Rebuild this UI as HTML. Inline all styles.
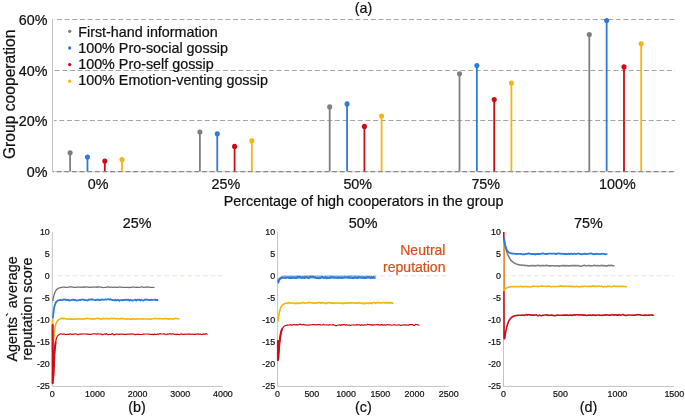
<!DOCTYPE html><html><head><meta charset="utf-8"><style>html,body{margin:0;padding:0;background:#fff;}svg{display:block;will-change:transform}text{font-family:"Liberation Sans", sans-serif;fill:#111;stroke:#111;stroke-width:0.22px}</style></head><body>
<svg width="685" height="417" viewBox="0 0 685 417">
<line x1="54" y1="19.50" x2="675" y2="19.50" stroke="#a6a6a6" stroke-width="1" stroke-dasharray="5 2.655" stroke-dashoffset="4.685"/>
<line x1="54" y1="70.50" x2="675" y2="70.50" stroke="#a6a6a6" stroke-width="1" stroke-dasharray="5 2.655" stroke-dashoffset="7.080"/>
<line x1="54" y1="120.50" x2="675" y2="120.50" stroke="#a6a6a6" stroke-width="1" stroke-dasharray="5 2.655" stroke-dashoffset="2.405"/>
<line x1="52.5" y1="171.6" x2="674.5" y2="171.6" stroke="#d6d6d6" stroke-width="1.1"/>
<line x1="52.5" y1="171.6" x2="674.5" y2="171.6" stroke="#8a8a8a" stroke-width="1.1" stroke-dasharray="4.7 2.955" stroke-dashoffset="3.505"/>
<line x1="52.5" y1="19" x2="52.5" y2="172" stroke="#c3c3c3" stroke-width="1"/>
<text transform="translate(47.50,24.50) scale(1,1.04)" font-size="14.35" text-anchor="end">60%</text>
<text transform="translate(47.50,75.50) scale(1,1.04)" font-size="14.35" text-anchor="end">40%</text>
<text transform="translate(47.50,125.50) scale(1,1.04)" font-size="14.35" text-anchor="end">20%</text>
<text transform="translate(47.50,176.50) scale(1,1.04)" font-size="14.35" text-anchor="end">0%</text>
<text transform="translate(15.00,94.30) rotate(-90)" font-size="15.65" text-anchor="middle">Group cooperation</text>
<line x1="70.10" y1="152.80" x2="70.10" y2="171.20" stroke="#7f7f7f" stroke-width="1.8"/>
<circle cx="70.10" cy="152.80" r="2.55" fill="#7f7f7f"/>
<line x1="87.46" y1="157.00" x2="87.46" y2="171.20" stroke="#2f7bd8" stroke-width="1.8"/>
<circle cx="87.46" cy="157.00" r="2.55" fill="#2f7bd8"/>
<line x1="104.80" y1="161.00" x2="104.80" y2="171.20" stroke="#cc0c16" stroke-width="1.8"/>
<circle cx="104.80" cy="161.00" r="2.55" fill="#cc0c16"/>
<line x1="122.00" y1="159.50" x2="122.00" y2="171.20" stroke="#f4b512" stroke-width="1.8"/>
<circle cx="122.00" cy="159.50" r="2.55" fill="#f4b512"/>
<line x1="199.90" y1="132.00" x2="199.90" y2="171.20" stroke="#7f7f7f" stroke-width="1.8"/>
<circle cx="199.90" cy="132.00" r="2.55" fill="#7f7f7f"/>
<line x1="217.26" y1="133.80" x2="217.26" y2="171.20" stroke="#2f7bd8" stroke-width="1.8"/>
<circle cx="217.26" cy="133.80" r="2.55" fill="#2f7bd8"/>
<line x1="234.60" y1="146.40" x2="234.60" y2="171.20" stroke="#cc0c16" stroke-width="1.8"/>
<circle cx="234.60" cy="146.40" r="2.55" fill="#cc0c16"/>
<line x1="251.80" y1="140.80" x2="251.80" y2="171.20" stroke="#f4b512" stroke-width="1.8"/>
<circle cx="251.80" cy="140.80" r="2.55" fill="#f4b512"/>
<line x1="329.70" y1="106.90" x2="329.70" y2="171.20" stroke="#7f7f7f" stroke-width="1.8"/>
<circle cx="329.70" cy="106.90" r="2.55" fill="#7f7f7f"/>
<line x1="347.06" y1="103.90" x2="347.06" y2="171.20" stroke="#2f7bd8" stroke-width="1.8"/>
<circle cx="347.06" cy="103.90" r="2.55" fill="#2f7bd8"/>
<line x1="364.40" y1="126.40" x2="364.40" y2="171.20" stroke="#cc0c16" stroke-width="1.8"/>
<circle cx="364.40" cy="126.40" r="2.55" fill="#cc0c16"/>
<line x1="381.60" y1="116.10" x2="381.60" y2="171.20" stroke="#f4b512" stroke-width="1.8"/>
<circle cx="381.60" cy="116.10" r="2.55" fill="#f4b512"/>
<line x1="459.50" y1="73.70" x2="459.50" y2="171.20" stroke="#7f7f7f" stroke-width="1.8"/>
<circle cx="459.50" cy="73.70" r="2.55" fill="#7f7f7f"/>
<line x1="476.86" y1="65.50" x2="476.86" y2="171.20" stroke="#2f7bd8" stroke-width="1.8"/>
<circle cx="476.86" cy="65.50" r="2.55" fill="#2f7bd8"/>
<line x1="494.20" y1="99.60" x2="494.20" y2="171.20" stroke="#cc0c16" stroke-width="1.8"/>
<circle cx="494.20" cy="99.60" r="2.55" fill="#cc0c16"/>
<line x1="511.40" y1="83.10" x2="511.40" y2="171.20" stroke="#f4b512" stroke-width="1.8"/>
<circle cx="511.40" cy="83.10" r="2.55" fill="#f4b512"/>
<line x1="589.30" y1="34.50" x2="589.30" y2="171.20" stroke="#7f7f7f" stroke-width="1.8"/>
<circle cx="589.30" cy="34.50" r="2.55" fill="#7f7f7f"/>
<line x1="606.66" y1="20.60" x2="606.66" y2="171.20" stroke="#2f7bd8" stroke-width="1.8"/>
<circle cx="606.66" cy="20.60" r="2.55" fill="#2f7bd8"/>
<line x1="624.00" y1="66.90" x2="624.00" y2="171.20" stroke="#cc0c16" stroke-width="1.8"/>
<circle cx="624.00" cy="66.90" r="2.55" fill="#cc0c16"/>
<line x1="641.20" y1="43.80" x2="641.20" y2="171.20" stroke="#f4b512" stroke-width="1.8"/>
<circle cx="641.20" cy="43.80" r="2.55" fill="#f4b512"/>
<text transform="translate(98.15,189.20) scale(1,1.04)" font-size="14.35" text-anchor="middle">0%</text>
<text transform="translate(225.85,189.20) scale(1,1.04)" font-size="14.35" text-anchor="middle">25%</text>
<text transform="translate(357.75,189.20) scale(1,1.04)" font-size="14.35" text-anchor="middle">50%</text>
<text transform="translate(485.75,189.20) scale(1,1.04)" font-size="14.35" text-anchor="middle">75%</text>
<text transform="translate(617.35,189.20) scale(1,1.04)" font-size="14.35" text-anchor="middle">100%</text>
<text transform="translate(223.70,205.70) scale(1,1.04)" font-size="14.35">Percentage of high cooperators in the group</text>
<text transform="translate(363.50,12.80) scale(1,1.04)" font-size="14.35" text-anchor="middle">(a)</text>
<circle cx="69.7" cy="31.30" r="1.65" fill="#7f7f7f"/>
<text transform="translate(78.20,36.70) scale(1,1.04)" font-size="14.35">First-hand information</text>
<circle cx="69.7" cy="48.00" r="1.65" fill="#2f7bd8"/>
<text transform="translate(78.20,53.10) scale(1,1.04)" font-size="14.35">100% Pro-social gossip</text>
<circle cx="69.7" cy="64.60" r="1.65" fill="#cc0c16"/>
<text transform="translate(78.20,69.20) scale(1,1.04)" font-size="14.35">100% Pro-self gossip</text>
<circle cx="69.7" cy="81.20" r="1.65" fill="#f4b512"/>
<text transform="translate(78.20,85.35) scale(1,1.04)" font-size="14.35">100% Emotion-venting gossip</text>
<line x1="53.80" y1="275.8" x2="222.40" y2="275.8" stroke="#ece3d6" stroke-width="1" stroke-dasharray="4.6 3.06" stroke-dashoffset="4.040"/>
<line x1="52.30" y1="232" x2="52.30" y2="386.4" stroke="#c3c3c3" stroke-width="1"/>
<line x1="52.30" y1="386.4" x2="222.90" y2="386.4" stroke="#c3c3c3" stroke-width="1"/>
<text transform="translate(49.80,235.00) scale(0.927,1)" font-size="9.6" text-anchor="end">10</text>
<text transform="translate(49.80,256.95) scale(0.927,1)" font-size="9.6" text-anchor="end">5</text>
<text transform="translate(49.80,278.90) scale(0.927,1)" font-size="9.6" text-anchor="end">0</text>
<text transform="translate(49.80,300.85) scale(0.927,1)" font-size="9.6" text-anchor="end">-5</text>
<text transform="translate(49.80,322.80) scale(0.927,1)" font-size="9.6" text-anchor="end">-10</text>
<text transform="translate(49.80,344.75) scale(0.927,1)" font-size="9.6" text-anchor="end">-15</text>
<text transform="translate(49.80,366.70) scale(0.927,1)" font-size="9.6" text-anchor="end">-20</text>
<text transform="translate(49.80,388.65) scale(0.927,1)" font-size="9.6" text-anchor="end">-25</text>
<text transform="translate(52.30,397.00) scale(0.927,1)" font-size="9.6" text-anchor="middle">0</text>
<text transform="translate(94.95,397.00) scale(0.927,1)" font-size="9.6" text-anchor="middle">1000</text>
<text transform="translate(137.60,397.00) scale(0.927,1)" font-size="9.6" text-anchor="middle">2000</text>
<text transform="translate(180.25,397.00) scale(0.927,1)" font-size="9.6" text-anchor="middle">3000</text>
<text transform="translate(222.90,397.00) scale(0.927,1)" font-size="9.6" text-anchor="middle">4000</text>
<text transform="translate(137.20,227.50) scale(1,1.04)" font-size="14.35" text-anchor="middle">25%</text>
<text transform="translate(136.90,411.50) scale(1,1.04)" font-size="14.35" text-anchor="middle">(b)</text>
<line x1="279.10" y1="275.8" x2="448.20" y2="275.8" stroke="#ece3d6" stroke-width="1" stroke-dasharray="4.6 3.06" stroke-dashoffset="5.940"/>
<line x1="277.60" y1="232" x2="277.60" y2="386.4" stroke="#c3c3c3" stroke-width="1"/>
<line x1="277.60" y1="386.4" x2="448.70" y2="386.4" stroke="#c3c3c3" stroke-width="1"/>
<text transform="translate(275.10,235.00) scale(0.927,1)" font-size="9.6" text-anchor="end">10</text>
<text transform="translate(275.10,256.95) scale(0.927,1)" font-size="9.6" text-anchor="end">5</text>
<text transform="translate(275.10,278.90) scale(0.927,1)" font-size="9.6" text-anchor="end">0</text>
<text transform="translate(275.10,300.85) scale(0.927,1)" font-size="9.6" text-anchor="end">-5</text>
<text transform="translate(275.10,322.80) scale(0.927,1)" font-size="9.6" text-anchor="end">-10</text>
<text transform="translate(275.10,344.75) scale(0.927,1)" font-size="9.6" text-anchor="end">-15</text>
<text transform="translate(275.10,366.70) scale(0.927,1)" font-size="9.6" text-anchor="end">-20</text>
<text transform="translate(275.10,388.65) scale(0.927,1)" font-size="9.6" text-anchor="end">-25</text>
<text transform="translate(277.60,397.00) scale(0.927,1)" font-size="9.6" text-anchor="middle">0</text>
<text transform="translate(311.82,397.00) scale(0.927,1)" font-size="9.6" text-anchor="middle">500</text>
<text transform="translate(346.04,397.00) scale(0.927,1)" font-size="9.6" text-anchor="middle">1000</text>
<text transform="translate(380.26,397.00) scale(0.927,1)" font-size="9.6" text-anchor="middle">1500</text>
<text transform="translate(414.48,397.00) scale(0.927,1)" font-size="9.6" text-anchor="middle">2000</text>
<text transform="translate(448.70,397.00) scale(0.927,1)" font-size="9.6" text-anchor="middle">2500</text>
<text transform="translate(363.10,227.50) scale(1,1.04)" font-size="14.35" text-anchor="middle">50%</text>
<text transform="translate(363.40,411.50) scale(1,1.04)" font-size="14.35" text-anchor="middle">(c)</text>
<line x1="505.00" y1="275.8" x2="673.81" y2="275.8" stroke="#ece3d6" stroke-width="1" stroke-dasharray="4.6 3.06" stroke-dashoffset="1.460"/>
<line x1="503.50" y1="232" x2="503.50" y2="386.4" stroke="#c3c3c3" stroke-width="1"/>
<line x1="503.50" y1="386.4" x2="674.31" y2="386.4" stroke="#c3c3c3" stroke-width="1"/>
<text transform="translate(501.00,235.00) scale(0.927,1)" font-size="9.6" text-anchor="end">10</text>
<text transform="translate(501.00,256.95) scale(0.927,1)" font-size="9.6" text-anchor="end">5</text>
<text transform="translate(501.00,278.90) scale(0.927,1)" font-size="9.6" text-anchor="end">0</text>
<text transform="translate(501.00,300.85) scale(0.927,1)" font-size="9.6" text-anchor="end">-5</text>
<text transform="translate(501.00,322.80) scale(0.927,1)" font-size="9.6" text-anchor="end">-10</text>
<text transform="translate(501.00,344.75) scale(0.927,1)" font-size="9.6" text-anchor="end">-15</text>
<text transform="translate(501.00,366.70) scale(0.927,1)" font-size="9.6" text-anchor="end">-20</text>
<text transform="translate(501.00,388.65) scale(0.927,1)" font-size="9.6" text-anchor="end">-25</text>
<text transform="translate(503.50,397.00) scale(0.927,1)" font-size="9.6" text-anchor="middle">0</text>
<text transform="translate(560.43,397.00) scale(0.927,1)" font-size="9.6" text-anchor="middle">500</text>
<text transform="translate(617.37,397.00) scale(0.927,1)" font-size="9.6" text-anchor="middle">1000</text>
<text transform="translate(674.31,397.00) scale(0.927,1)" font-size="9.6" text-anchor="middle">1500</text>
<text transform="translate(588.40,227.50) scale(1,1.04)" font-size="14.35" text-anchor="middle">75%</text>
<text transform="translate(588.40,411.50) scale(1,1.04)" font-size="14.35" text-anchor="middle">(d)</text>
<text transform="translate(16.80,309.00) rotate(-90) scale(1,1.04)" font-size="14.35" text-anchor="middle">Agents` average</text>
<text transform="translate(32.00,309.00) rotate(-90) scale(1,1.04)" font-size="14.35" text-anchor="middle">reputation score</text>
<text transform="translate(445.50,255.30) scale(1,1.04)" font-size="14.05" text-anchor="end" style="fill:#d6521c;stroke:#d6521c">Neutral</text>
<text transform="translate(445.50,271.50) scale(1,1.04)" font-size="14.05" text-anchor="end" style="fill:#d6521c;stroke:#d6521c">reputation</text>
<path d="M52.8,301.0 L53.4,297.7 L54.0,295.1 L54.6,293.2 L55.2,291.8 L55.8,290.7 L56.4,289.8 L57.0,289.2 L57.7,288.7 L58.3,288.3 L58.9,288.1 L59.5,287.8 L60.1,287.7 L60.7,287.6 L61.3,287.5 L62.3,287.2 L63.3,287.1 L64.3,287.0 L65.3,287.3 L66.3,287.4 L67.3,287.3 L68.3,287.2 L69.3,287.2 L70.3,286.7 L71.3,286.9 L72.3,287.1 L73.3,287.1 L74.3,287.3 L75.3,287.4 L76.3,287.4 L77.3,287.0 L78.3,287.1 L79.3,287.2 L80.3,287.0 L81.3,287.3 L82.3,287.1 L83.3,286.9 L84.3,287.4 L85.3,286.9 L86.3,286.9 L87.3,287.1 L88.3,287.1 L89.3,287.3 L90.3,287.4 L91.3,287.1 L92.3,287.2 L93.3,287.0 L94.3,287.0 L95.3,287.0 L96.3,287.1 L97.3,287.4 L98.3,286.6 L99.3,287.0 L100.3,287.2 L101.3,287.2 L102.3,287.3 L103.3,287.5 L104.3,287.5 L105.3,287.3 L106.3,287.3 L107.3,286.9 L108.3,286.9 L109.3,287.3 L110.3,287.2 L111.3,287.1 L112.3,287.3 L113.3,287.4 L114.3,287.0 L115.3,287.3 L116.3,287.3 L117.3,287.3 L118.3,287.1 L119.3,287.1 L120.3,287.1 L121.3,287.2 L122.3,287.3 L123.3,287.5 L124.3,287.3 L125.3,287.4 L126.3,287.3 L127.3,287.3 L128.3,287.4 L129.3,287.6 L130.3,287.3 L131.3,287.4 L132.3,287.2 L133.3,287.0 L134.3,287.2 L135.3,287.3 L136.3,287.3 L137.3,287.1 L138.3,287.5 L139.3,287.3 L140.3,287.2 L141.3,286.8 L142.3,286.9 L143.3,287.3 L144.3,287.5 L145.3,287.0 L146.3,287.1 L147.3,286.8 L148.3,287.1 L149.3,287.1 L150.3,287.5 L151.3,287.3 L152.3,287.3 L153.3,287.5 L154.3,287.3 L154.5,287.4" fill="none" stroke="#6f6f6f" stroke-width="1.25" stroke-linejoin="round" opacity="1.0"/>
<path d="M52.8,318.3 L53.3,313.7 L53.7,310.2 L54.2,307.6 L54.7,305.7 L55.1,304.2 L55.6,303.1 L56.0,302.3 L56.5,301.7 L57.0,301.3 L57.4,300.9 L57.9,300.7 L58.4,300.5 L58.8,300.3 L59.3,300.2 L60.3,300.0 L61.3,300.2 L62.3,300.2 L63.3,299.4 L64.3,299.7 L65.3,299.4 L66.3,300.2 L67.3,300.0 L68.3,299.8 L69.3,300.5 L70.3,300.3 L71.3,300.0 L72.3,300.0 L73.3,299.6 L74.3,300.0 L75.3,299.9 L76.3,300.6 L77.3,300.3 L78.3,300.3 L79.3,300.0 L80.3,300.2 L81.3,299.6 L82.3,299.6 L83.3,299.6 L84.3,300.0 L85.3,300.1 L86.3,300.1 L87.3,300.5 L88.3,300.1 L89.3,299.3 L90.3,299.6 L91.3,299.4 L92.3,299.5 L93.3,299.6 L94.3,300.0 L95.3,300.3 L96.3,299.7 L97.3,300.1 L98.3,299.4 L99.3,300.1 L100.3,300.1 L101.3,299.7 L102.3,299.5 L103.3,299.8 L104.3,299.6 L105.3,299.5 L106.3,299.6 L107.3,299.3 L108.3,299.0 L109.3,299.7 L110.3,299.2 L111.3,299.6 L112.3,300.1 L113.3,300.1 L114.3,300.4 L115.3,299.7 L116.3,300.5 L117.3,299.9 L118.3,299.9 L119.3,300.8 L120.3,300.1 L121.3,300.2 L122.3,300.4 L123.3,299.9 L124.3,300.2 L125.3,299.9 L126.3,299.7 L127.3,300.0 L128.3,299.6 L129.3,300.6 L130.3,299.7 L131.3,300.3 L132.3,300.5 L133.3,300.3 L134.3,300.0 L135.3,299.7 L136.3,300.5 L137.3,299.6 L138.3,299.9 L139.3,299.6 L140.3,300.5 L141.3,299.6 L142.3,300.4 L143.3,300.6 L144.3,300.1 L145.3,299.4 L146.3,299.8 L147.3,299.6 L148.3,299.9 L149.3,300.0 L150.3,300.1 L151.3,299.7 L152.3,299.8 L153.3,299.9 L154.3,299.9 L155.3,299.6 L156.3,300.2 L157.3,300.0 L158.2,299.8" fill="none" stroke="#2f7bd8" stroke-width="1.8" stroke-linejoin="round" opacity="1.0"/>
<path d="M52.6,318.5 L52.6,349.0 L53.1,349.0 L53.5,341.7 L54.0,336.2 L54.4,332.0 L54.9,328.8 L55.3,326.4 L55.8,324.5 L56.2,323.1 L56.6,322.1 L57.1,321.3 L57.5,320.7 L58.0,320.2 L58.4,319.9 L58.9,319.6 L59.3,319.4 L60.3,318.5 L61.3,318.6 L62.3,318.0 L63.3,318.7 L64.3,318.3 L65.3,318.6 L66.3,318.7 L67.3,319.1 L68.3,319.0 L69.3,319.2 L70.3,318.9 L71.3,319.1 L72.3,319.0 L73.3,319.1 L74.3,319.3 L75.3,318.9 L76.3,319.4 L77.3,319.0 L78.3,318.9 L79.3,318.7 L80.3,319.0 L81.3,318.9 L82.3,319.1 L83.3,318.9 L84.3,319.0 L85.3,318.6 L86.3,318.4 L87.3,318.3 L88.3,318.7 L89.3,318.8 L90.3,318.5 L91.3,319.1 L92.3,318.9 L93.3,318.6 L94.3,319.2 L95.3,318.6 L96.3,318.5 L97.3,318.3 L98.3,318.3 L99.3,318.7 L100.3,318.9 L101.3,319.2 L102.3,318.6 L103.3,318.4 L104.3,318.7 L105.3,318.5 L106.3,318.6 L107.3,318.6 L108.3,318.6 L109.3,318.9 L110.3,318.7 L111.3,318.3 L112.3,318.6 L113.3,318.5 L114.3,318.4 L115.3,318.6 L116.3,318.9 L117.3,318.6 L118.3,318.7 L119.3,318.9 L120.3,318.5 L121.3,318.6 L122.3,318.6 L123.3,318.6 L124.3,318.7 L125.3,319.0 L126.3,319.1 L127.3,318.7 L128.3,318.9 L129.3,319.4 L130.3,319.1 L131.3,319.1 L132.3,318.9 L133.3,318.8 L134.3,318.9 L135.3,319.4 L136.3,318.9 L137.3,319.0 L138.3,318.8 L139.3,319.0 L140.3,319.0 L141.3,319.0 L142.3,318.9 L143.3,318.9 L144.3,319.0 L145.3,319.0 L146.3,319.0 L147.3,319.0 L148.3,318.9 L149.3,319.2 L150.3,319.3 L151.3,319.0 L152.3,318.7 L153.3,318.8 L154.3,318.6 L155.3,318.3 L156.3,318.7 L157.3,318.7 L158.3,318.6 L159.3,318.5 L160.3,318.8 L161.3,318.8 L162.3,318.7 L163.3,318.9 L164.3,318.8 L165.3,318.6 L166.3,318.6 L167.3,318.8 L168.3,319.2 L169.3,318.7 L170.3,318.8 L171.3,318.9 L172.3,319.0 L173.3,318.9 L174.3,318.9 L175.3,318.4 L176.3,318.4 L177.3,318.7 L178.3,318.7 L179.3,318.8 L179.6,318.8" fill="none" stroke="#f4b512" stroke-width="1.6" stroke-linejoin="round" opacity="1.0"/>
<path d="M52.6,324.9 L52.6,383.3 L53.5,375.0 L53.5,375.0 L53.9,363.9 L54.3,355.7 L54.7,349.9 L55.2,345.6 L55.6,342.5 L56.0,340.2 L56.4,338.5 L56.8,337.3 L57.2,336.5 L57.6,335.8 L58.1,335.4 L58.5,335.0 L58.9,334.8 L59.3,334.6 L60.3,333.9 L61.3,334.0 L62.3,334.2 L63.3,334.1 L64.3,334.2 L65.3,334.3 L66.3,334.5 L67.3,334.3 L68.3,334.3 L69.3,334.3 L70.3,333.8 L71.3,334.3 L72.3,334.4 L73.3,334.0 L74.3,334.2 L75.3,333.8 L76.3,334.0 L77.3,334.4 L78.3,334.7 L79.3,334.0 L80.3,334.3 L81.3,333.8 L82.3,334.2 L83.3,333.9 L84.3,334.0 L85.3,334.0 L86.3,334.2 L87.3,334.2 L88.3,334.2 L89.3,334.4 L90.3,334.4 L91.3,334.4 L92.3,334.0 L93.3,334.0 L94.3,333.5 L95.3,334.0 L96.3,334.1 L97.3,333.9 L98.3,333.8 L99.3,334.0 L100.3,334.2 L101.3,334.1 L102.3,334.6 L103.3,334.6 L104.3,334.0 L105.3,334.3 L106.3,333.5 L107.3,334.3 L108.3,334.8 L109.3,334.3 L110.3,334.4 L111.3,334.3 L112.3,333.6 L113.3,334.3 L114.3,334.9 L115.3,334.3 L116.3,334.0 L117.3,334.2 L118.3,334.1 L119.3,334.3 L120.3,334.2 L121.3,334.2 L122.3,334.3 L123.3,334.0 L124.3,334.4 L125.3,334.3 L126.3,334.3 L127.3,334.1 L128.3,334.1 L129.3,334.0 L130.3,334.1 L131.3,334.2 L132.3,333.8 L133.3,334.2 L134.3,334.3 L135.3,334.6 L136.3,334.3 L137.3,334.4 L138.3,334.4 L139.3,334.4 L140.3,334.5 L141.3,334.5 L142.3,334.4 L143.3,334.2 L144.3,334.2 L145.3,334.0 L146.3,334.0 L147.3,334.0 L148.3,334.3 L149.3,334.0 L150.3,334.5 L151.3,334.3 L152.3,334.4 L153.3,334.6 L154.3,334.1 L155.3,334.4 L156.3,334.5 L157.3,334.0 L158.3,334.4 L159.3,333.8 L160.3,333.7 L161.3,334.0 L162.3,334.0 L163.3,333.9 L164.3,333.9 L165.3,334.3 L166.3,334.7 L167.3,334.0 L168.3,334.1 L169.3,333.8 L170.3,333.7 L171.3,334.1 L172.3,333.9 L173.3,333.8 L174.3,334.3 L175.3,334.4 L176.3,334.4 L177.3,334.4 L178.3,334.3 L179.3,334.7 L180.3,334.3 L181.3,333.9 L182.3,334.3 L183.3,334.3 L184.3,334.4 L185.3,334.0 L186.3,334.3 L187.3,334.1 L188.3,334.2 L189.3,333.9 L190.3,334.3 L191.3,334.2 L192.3,334.0 L193.3,334.5 L194.3,334.2 L195.3,334.4 L196.3,334.2 L197.3,334.1 L198.3,333.9 L199.3,334.3 L200.3,334.0 L201.3,334.5 L202.3,334.3 L203.3,334.1 L204.3,333.9 L205.3,334.2 L206.3,333.6 L207.3,334.4 L207.4,334.2" fill="none" stroke="#cc0c16" stroke-width="1.2" stroke-linejoin="round" opacity="1.0"/><path d="M52.6,324.9 L52.6,383.3 L53.5,375.0 L53.5,375.0 L53.9,363.9 L54.3,355.7 L54.7,349.9 L55.2,345.6 L55.6,342.5" fill="none" stroke="#cc0c16" stroke-width="2.0" stroke-linejoin="round" stroke-linecap="round"/>
<path d="M279.1,279.0 L279.4,278.5 L279.6,278.1 L279.9,277.8 L280.1,277.5 L280.4,277.3 L280.6,277.1 L280.9,276.9 L281.1,276.8 L281.4,276.7 L281.6,276.6 L281.9,276.5 L282.1,276.4 L282.4,276.3 L282.6,276.3 L283.6,276.1 L284.6,275.8 L285.6,276.1 L286.6,275.8 L287.6,276.1 L288.6,276.1 L289.6,276.1 L290.6,276.1 L291.6,276.1 L292.6,276.1 L293.6,276.0 L294.6,276.0 L295.6,275.9 L296.6,276.1 L297.6,275.9 L298.6,276.1 L299.6,275.7 L300.6,276.1 L301.6,276.0 L302.6,276.0 L303.6,275.9 L304.6,275.8 L305.6,275.9 L306.6,275.9 L307.6,275.8 L308.6,276.0 L309.6,275.9 L310.6,275.8 L311.6,275.9 L312.6,275.9 L313.6,276.1 L314.6,276.2 L315.6,276.0 L316.6,276.0 L317.6,275.8 L318.6,276.0 L319.6,275.9 L320.6,276.0 L321.6,275.9 L322.6,275.9 L323.6,276.4 L324.6,275.9 L325.6,275.9 L326.6,275.8 L327.6,276.1 L328.6,276.0 L329.6,276.0 L330.6,276.0 L331.6,275.8 L332.6,276.0 L333.6,275.9 L334.6,276.0 L335.6,276.3 L336.6,275.8 L337.6,276.2 L338.6,276.2 L339.6,275.9 L340.6,276.0 L341.6,275.8 L342.6,276.4 L343.6,276.0 L344.6,276.0 L345.6,276.1 L346.6,276.1 L347.6,276.0 L348.6,275.9 L349.6,275.9 L350.6,275.6 L351.6,275.7 L352.6,275.9 L353.6,276.0 L354.6,275.8 L355.6,275.7 L356.6,276.0 L357.6,275.9 L358.6,276.0 L359.6,276.2 L360.6,276.2 L361.6,276.0 L362.6,275.8 L363.6,276.3 L364.6,276.1 L365.6,276.2 L366.6,276.0 L367.6,276.1 L368.6,276.2 L369.6,276.0 L370.6,275.9 L371.6,276.0 L372.6,276.3 L373.6,276.2 L374.6,276.1 L375.6,276.2 L376.0,276.2" fill="none" stroke="#a08c78" stroke-width="0.9" stroke-linejoin="round" opacity="0.9"/>
<path d="M277.9,282.5 L278.1,282.5 L278.5,281.2 L278.9,280.2 L279.3,279.5 L279.7,279.0 L280.1,278.6 L280.5,278.3 L280.9,278.1 L281.2,278.0 L281.6,277.8 L282.0,277.8 L282.4,277.7 L282.8,277.6 L283.2,277.6 L283.6,277.6 L284.6,277.6 L285.6,277.9 L286.6,277.4 L287.6,277.4 L288.6,277.6 L289.6,277.9 L290.6,277.4 L291.6,277.9 L292.6,277.5 L293.6,277.4 L294.6,277.7 L295.6,277.6 L296.6,277.7 L297.6,277.0 L298.6,277.3 L299.6,277.2 L300.6,277.2 L301.6,277.7 L302.6,277.5 L303.6,277.5 L304.6,277.7 L305.6,277.1 L306.6,277.4 L307.6,277.5 L308.6,278.0 L309.6,277.2 L310.6,276.8 L311.6,277.2 L312.6,276.8 L313.6,277.2 L314.6,277.1 L315.6,277.6 L316.6,277.9 L317.6,277.7 L318.6,278.1 L319.6,277.8 L320.6,277.7 L321.6,277.3 L322.6,277.2 L323.6,277.7 L324.6,277.7 L325.6,277.2 L326.6,278.0 L327.6,277.8 L328.6,277.9 L329.6,277.8 L330.6,277.5 L331.6,277.3 L332.6,277.3 L333.6,277.6 L334.6,277.4 L335.6,277.6 L336.6,277.6 L337.6,277.8 L338.6,277.5 L339.6,277.6 L340.6,277.5 L341.6,277.8 L342.6,277.6 L343.6,277.6 L344.6,277.3 L345.6,277.4 L346.6,277.4 L347.6,277.6 L348.6,277.1 L349.6,277.7 L350.6,277.4 L351.6,277.7 L352.6,277.6 L353.6,277.8 L354.6,277.5 L355.6,277.2 L356.6,277.8 L357.6,277.9 L358.6,277.3 L359.6,277.4 L360.6,277.5 L361.6,277.4 L362.6,277.5 L363.6,277.7 L364.6,277.5 L365.6,277.7 L366.6,277.7 L367.6,277.2 L368.6,277.1 L369.6,277.5 L370.6,277.9 L371.6,277.2 L372.6,277.7 L373.6,277.3 L374.6,277.8 L375.5,277.6" fill="none" stroke="#2f7bd8" stroke-width="2.4" stroke-linejoin="round" opacity="1.0"/>
<path d="M277.9,321.0 L278.1,321.0 L278.7,316.3 L279.3,312.8 L279.9,310.2 L280.5,308.3 L281.1,306.9 L281.7,305.9 L282.4,305.1 L283.0,304.6 L283.6,304.2 L284.2,303.8 L284.8,303.6 L285.4,303.5 L286.0,303.3 L286.6,303.2 L287.6,303.2 L288.6,302.6 L289.6,303.1 L290.6,303.1 L291.6,302.9 L292.6,303.0 L293.6,303.1 L294.6,303.6 L295.6,303.4 L296.6,303.4 L297.6,303.0 L298.6,303.4 L299.6,303.3 L300.6,303.1 L301.6,303.0 L302.6,302.6 L303.6,302.6 L304.6,303.2 L305.6,303.0 L306.6,302.9 L307.6,302.6 L308.6,302.8 L309.6,302.4 L310.6,302.6 L311.6,302.8 L312.6,302.8 L313.6,303.1 L314.6,303.1 L315.6,302.8 L316.6,302.9 L317.6,302.9 L318.6,302.7 L319.6,302.3 L320.6,303.1 L321.6,302.8 L322.6,302.6 L323.6,303.0 L324.6,303.3 L325.6,303.1 L326.6,303.4 L327.6,302.9 L328.6,302.7 L329.6,302.7 L330.6,302.9 L331.6,303.1 L332.6,302.9 L333.6,303.5 L334.6,303.1 L335.6,303.2 L336.6,303.1 L337.6,303.0 L338.6,303.0 L339.6,303.2 L340.6,303.0 L341.6,303.4 L342.6,303.1 L343.6,303.4 L344.6,302.9 L345.6,303.0 L346.6,303.4 L347.6,303.1 L348.6,302.7 L349.6,302.9 L350.6,302.8 L351.6,302.8 L352.6,302.9 L353.6,303.0 L354.6,302.9 L355.6,303.1 L356.6,303.2 L357.6,303.2 L358.6,302.9 L359.6,302.7 L360.6,303.0 L361.6,303.4 L362.6,303.2 L363.6,303.6 L364.6,303.2 L365.6,303.5 L366.6,303.1 L367.6,303.2 L368.6,303.4 L369.6,303.1 L370.6,303.0 L371.6,303.6 L372.6,302.8 L373.6,302.5 L374.6,302.6 L375.6,303.3 L376.6,302.7 L377.6,302.7 L378.6,302.6 L379.6,302.9 L380.6,302.8 L381.6,302.8 L382.6,302.7 L383.6,302.5 L384.6,303.0 L385.6,302.9 L386.6,302.4 L387.6,302.9 L388.6,302.9 L389.6,302.6 L390.6,303.1 L391.6,302.5 L392.6,303.2 L393.1,302.7" fill="none" stroke="#f4b512" stroke-width="1.7" stroke-linejoin="round" opacity="1.0"/>
<path d="M277.9,341.0 L277.9,360.0 L278.4,357.0 L278.4,357.0 L279.1,346.3 L279.9,339.2 L280.6,334.5 L281.3,331.3 L282.0,329.2 L282.8,327.8 L283.5,326.8 L284.2,326.2 L285.0,325.8 L285.7,325.5 L286.4,325.3 L287.1,325.2 L287.9,325.1 L288.6,325.0 L289.6,324.9 L290.6,324.6 L291.6,325.1 L292.6,324.9 L293.6,324.5 L294.6,324.9 L295.6,324.8 L296.6,324.7 L297.6,324.8 L298.6,324.8 L299.6,324.4 L300.6,324.2 L301.6,324.7 L302.6,324.9 L303.6,324.3 L304.6,325.0 L305.6,324.9 L306.6,325.2 L307.6,325.2 L308.6,325.1 L309.6,324.7 L310.6,325.0 L311.6,324.7 L312.6,324.6 L313.6,324.7 L314.6,324.6 L315.6,324.8 L316.6,324.9 L317.6,324.5 L318.6,324.7 L319.6,324.7 L320.6,324.8 L321.6,325.0 L322.6,325.0 L323.6,324.3 L324.6,325.0 L325.6,325.0 L326.6,324.8 L327.6,325.0 L328.6,325.2 L329.6,324.5 L330.6,325.0 L331.6,325.0 L332.6,324.7 L333.6,324.9 L334.6,325.2 L335.6,325.7 L336.6,325.7 L337.6,325.3 L338.6,325.0 L339.6,324.9 L340.6,325.4 L341.6,324.7 L342.6,324.9 L343.6,324.6 L344.6,324.6 L345.6,325.2 L346.6,324.7 L347.6,325.1 L348.6,325.0 L349.6,325.2 L350.6,325.4 L351.6,325.0 L352.6,325.0 L353.6,324.8 L354.6,325.2 L355.6,325.0 L356.6,324.6 L357.6,324.8 L358.6,324.9 L359.6,324.8 L360.6,325.5 L361.6,324.7 L362.6,325.1 L363.6,325.1 L364.6,324.9 L365.6,324.8 L366.6,324.8 L367.6,324.2 L368.6,324.5 L369.6,324.9 L370.6,324.9 L371.6,324.6 L372.6,325.3 L373.6,324.9 L374.6,324.9 L375.6,324.8 L376.6,324.5 L377.6,325.0 L378.6,324.5 L379.6,325.2 L380.6,324.9 L381.6,324.6 L382.6,324.8 L383.6,325.1 L384.6,324.7 L385.6,325.3 L386.6,324.9 L387.6,324.5 L388.6,324.8 L389.6,324.8 L390.6,325.0 L391.6,325.3 L392.6,325.0 L393.6,324.9 L394.6,324.9 L395.6,325.0 L396.6,325.3 L397.6,325.0 L398.6,324.8 L399.6,324.9 L400.6,325.5 L401.6,325.1 L402.6,325.0 L403.6,324.8 L404.6,325.1 L405.6,324.8 L406.6,325.2 L407.6,325.2 L408.6,325.1 L409.6,324.6 L410.6,324.6 L411.6,324.6 L412.6,324.5 L413.6,325.4 L414.6,325.3 L415.6,324.3 L416.6,324.5 L417.6,324.8 L418.6,325.1 L419.5,325.2" fill="none" stroke="#cc0c16" stroke-width="1.2" stroke-linejoin="round" opacity="1.0"/><path d="M277.9,341.0 L277.9,360.0 L278.4,357.0 L278.4,357.0 L279.1,346.3 L279.9,339.2 L280.6,334.5 L281.3,331.3 L282.0,329.2" fill="none" stroke="#cc0c16" stroke-width="2.0" stroke-linejoin="round" stroke-linecap="round"/>
<path d="M503.8,232.0 L504.1,338.7 L504.7,338.7 L504.7,338.7 L505.6,332.4 L506.6,327.7 L507.5,324.4 L508.4,321.9 L509.4,320.0 L510.3,318.7 L511.2,317.7 L512.2,317.0 L513.1,316.5 L514.0,316.1 L515.0,315.8 L515.9,315.6 L516.8,315.5 L517.8,315.4 L518.7,315.3 L519.6,315.2 L520.6,315.2 L521.5,315.1 L522.5,315.2 L523.5,315.1 L524.5,315.2 L525.5,314.9 L526.5,314.5 L527.5,315.1 L528.5,314.6 L529.5,314.9 L530.5,314.7 L531.5,315.1 L532.5,315.1 L533.5,315.0 L534.5,315.1 L535.5,315.0 L536.5,314.9 L537.5,315.4 L538.5,315.7 L539.5,315.1 L540.5,315.5 L541.5,315.7 L542.5,315.2 L543.5,315.2 L544.5,315.0 L545.5,315.0 L546.5,315.1 L547.5,314.8 L548.5,315.5 L549.5,315.3 L550.5,315.3 L551.5,315.0 L552.5,315.4 L553.5,315.4 L554.5,315.7 L555.5,315.6 L556.5,315.2 L557.5,315.1 L558.5,315.2 L559.5,315.2 L560.5,315.2 L561.5,315.3 L562.5,315.2 L563.5,315.0 L564.5,315.1 L565.5,315.0 L566.5,315.1 L567.5,315.0 L568.5,315.4 L569.5,315.1 L570.5,315.0 L571.5,315.5 L572.5,315.0 L573.5,315.2 L574.5,314.8 L575.5,315.1 L576.5,314.7 L577.5,314.8 L578.5,315.1 L579.5,314.8 L580.5,315.0 L581.5,314.9 L582.5,314.9 L583.5,315.1 L584.5,315.1 L585.5,315.1 L586.5,315.6 L587.5,315.2 L588.5,315.1 L589.5,315.2 L590.5,315.0 L591.5,315.4 L592.5,314.9 L593.5,315.3 L594.5,315.1 L595.5,315.4 L596.5,315.2 L597.5,315.0 L598.5,315.0 L599.5,315.1 L600.5,315.2 L601.5,315.4 L602.5,315.2 L603.5,315.0 L604.5,315.3 L605.5,314.9 L606.5,314.9 L607.5,315.0 L608.5,315.2 L609.5,315.0 L610.5,315.1 L611.5,315.0 L612.5,314.6 L613.5,315.2 L614.5,314.9 L615.5,314.8 L616.5,315.1 L617.5,314.9 L618.5,315.1 L619.5,314.8 L620.5,315.2 L621.5,314.9 L622.5,314.5 L623.5,314.8 L624.5,315.3 L625.5,315.4 L626.5,315.5 L627.5,315.0 L628.5,315.0 L629.5,315.0 L630.5,315.0 L631.5,315.2 L632.5,315.3 L633.5,315.0 L634.5,315.2 L635.5,315.0 L636.5,314.9 L637.5,314.6 L638.5,314.7 L639.5,314.7 L640.5,314.9 L641.5,315.2 L642.5,315.3 L643.5,315.2 L644.5,315.4 L645.5,315.0 L646.5,315.2 L647.5,315.2 L648.5,315.1 L649.5,315.3 L650.5,315.0 L651.5,314.9 L652.5,315.3 L653.5,314.9 L653.6,314.7" fill="none" stroke="#cc0c16" stroke-width="1.6" stroke-linejoin="round" opacity="1.0"/>
<path d="M503.8,240.0 L503.8,290.6 L504.1,290.6 L504.9,289.5 L505.7,288.6 L506.5,288.1 L507.4,287.6 L508.2,287.3 L509.0,287.1 L509.8,286.9 L510.6,286.8 L511.4,286.7 L512.2,286.7 L513.1,286.6 L513.9,286.6 L514.7,286.6 L515.5,286.6 L516.5,286.6 L517.5,286.7 L518.5,286.5 L519.5,286.6 L520.5,286.5 L521.5,286.3 L522.5,286.9 L523.5,286.7 L524.5,286.5 L525.5,286.4 L526.5,286.8 L527.5,286.5 L528.5,286.6 L529.5,286.7 L530.5,286.9 L531.5,286.7 L532.5,286.1 L533.5,286.3 L534.5,286.2 L535.5,286.3 L536.5,286.3 L537.5,286.6 L538.5,286.6 L539.5,286.3 L540.5,286.2 L541.5,286.1 L542.5,286.0 L543.5,286.2 L544.5,286.3 L545.5,286.2 L546.5,286.4 L547.5,286.4 L548.5,286.1 L549.5,286.3 L550.5,286.6 L551.5,286.8 L552.5,286.5 L553.5,286.5 L554.5,286.4 L555.5,286.7 L556.5,286.5 L557.5,286.5 L558.5,286.3 L559.5,286.5 L560.5,285.9 L561.5,286.1 L562.5,286.0 L563.5,286.4 L564.5,286.5 L565.5,286.0 L566.5,286.5 L567.5,286.5 L568.5,286.0 L569.5,286.4 L570.5,286.4 L571.5,286.5 L572.5,286.2 L573.5,286.6 L574.5,286.7 L575.5,286.6 L576.5,286.5 L577.5,286.3 L578.5,286.7 L579.5,286.9 L580.5,286.5 L581.5,286.6 L582.5,286.2 L583.5,286.6 L584.5,286.2 L585.5,286.3 L586.5,286.5 L587.5,286.5 L588.5,286.4 L589.5,286.4 L590.5,286.3 L591.5,286.6 L592.5,285.8 L593.5,286.0 L594.5,286.4 L595.5,286.3 L596.5,286.6 L597.5,286.2 L598.5,286.0 L599.5,286.3 L600.5,286.3 L601.5,286.3 L602.5,286.6 L603.5,287.0 L604.5,286.5 L605.5,286.5 L606.5,286.9 L607.5,286.1 L608.5,286.3 L609.5,286.4 L610.5,286.5 L611.5,286.8 L612.5,286.4 L613.5,286.0 L614.5,286.0 L615.5,286.4 L616.5,286.2 L617.5,286.6 L618.5,286.2 L619.5,286.4 L620.5,286.4 L621.5,286.5 L622.5,286.4 L623.5,286.3 L624.5,286.4 L625.5,286.9 L626.5,286.6 L626.8,286.7" fill="none" stroke="#f4b512" stroke-width="1.6" stroke-linejoin="round" opacity="1.0"/>
<path d="M503.8,240.0 L504.0,240.0 L505.0,245.0 L506.0,249.0 L506.9,252.3 L507.9,254.9 L508.9,257.0 L509.9,258.7 L510.8,260.1 L511.8,261.1 L512.8,262.0 L513.8,262.7 L514.8,263.3 L515.7,263.8 L516.7,264.1 L517.7,264.4 L518.7,264.7 L519.6,264.9 L520.6,265.0 L521.6,265.1 L522.6,265.2 L523.5,265.3 L524.5,265.4 L525.5,265.4 L526.5,265.7 L527.5,265.5 L528.5,266.0 L529.5,265.9 L530.5,265.7 L531.5,265.6 L532.5,265.5 L533.5,265.7 L534.5,265.6 L535.5,266.0 L536.5,265.5 L537.5,265.5 L538.5,265.4 L539.5,265.6 L540.5,265.7 L541.5,265.5 L542.5,265.6 L543.5,265.5 L544.5,265.8 L545.5,265.6 L546.5,265.3 L547.5,265.5 L548.5,266.0 L549.5,265.8 L550.5,265.9 L551.5,265.8 L552.5,265.7 L553.5,265.7 L554.5,266.0 L555.5,265.9 L556.5,265.7 L557.5,265.8 L558.5,266.1 L559.5,266.1 L560.5,265.7 L561.5,265.7 L562.5,265.5 L563.5,265.6 L564.5,265.5 L565.5,266.1 L566.5,265.5 L567.5,265.8 L568.5,265.9 L569.5,265.9 L570.5,265.8 L571.5,265.6 L572.5,265.6 L573.5,265.6 L574.5,265.6 L575.5,265.6 L576.5,265.5 L577.5,265.7 L578.5,265.6 L579.5,265.9 L580.5,266.2 L581.5,266.3 L582.5,265.7 L583.5,265.5 L584.5,265.3 L585.5,265.7 L586.5,265.7 L587.5,265.8 L588.5,265.5 L589.5,265.5 L590.5,266.0 L591.5,265.7 L592.5,265.7 L593.5,265.6 L594.5,265.3 L595.5,265.8 L596.5,265.8 L597.5,265.6 L598.5,265.8 L599.5,265.7 L600.5,265.7 L601.5,265.3 L602.5,265.8 L603.5,265.5 L604.5,265.6 L605.5,265.9 L606.5,265.9 L607.5,265.9 L608.5,265.3 L609.5,265.8 L610.5,265.4 L611.5,265.3 L612.5,265.8 L613.5,265.7 L614.5,265.8" fill="none" stroke="#7f7f7f" stroke-width="1.6" stroke-linejoin="round" opacity="1.0"/>
<path d="M503.8,238.0 L504.0,238.0 L504.7,242.8 L505.4,246.1 L506.2,248.4 L506.9,250.1 L507.6,251.2 L508.3,252.0 L509.0,252.5 L509.8,252.9 L510.5,253.2 L511.2,253.4 L511.9,253.5 L512.6,253.6 L513.3,253.7 L514.1,253.7 L514.8,253.7 L515.5,253.8 L516.5,254.2 L517.5,253.8 L518.5,253.9 L519.5,253.8 L520.5,253.8 L521.5,254.0 L522.5,254.3 L523.5,254.2 L524.5,254.3 L525.5,254.0 L526.5,253.9 L527.5,253.9 L528.5,253.4 L529.5,253.5 L530.5,253.8 L531.5,254.1 L532.5,253.9 L533.5,254.3 L534.5,253.8 L535.5,254.5 L536.5,253.8 L537.5,254.1 L538.5,253.8 L539.5,254.0 L540.5,253.9 L541.5,253.7 L542.5,253.4 L543.5,253.5 L544.5,253.8 L545.5,253.8 L546.5,254.0 L547.5,253.8 L548.5,253.7 L549.5,253.6 L550.5,253.6 L551.5,253.6 L552.5,253.7 L553.5,253.6 L554.5,253.7 L555.5,254.1 L556.5,253.6 L557.5,253.8 L558.5,253.2 L559.5,253.7 L560.5,253.9 L561.5,253.5 L562.5,253.8 L563.5,253.9 L564.5,254.0 L565.5,253.8 L566.5,254.2 L567.5,254.1 L568.5,253.6 L569.5,254.1 L570.5,253.9 L571.5,253.7 L572.5,254.0 L573.5,253.8 L574.5,253.5 L575.5,254.1 L576.5,254.0 L577.5,253.7 L578.5,253.5 L579.5,253.8 L580.5,253.8 L581.5,254.4 L582.5,254.1 L583.5,253.8 L584.5,253.6 L585.5,254.0 L586.5,254.1 L587.5,253.8 L588.5,253.8 L589.5,253.6 L590.5,253.3 L591.5,253.5 L592.5,253.9 L593.5,254.3 L594.5,254.0 L595.5,254.0 L596.5,253.9 L597.5,253.9 L598.5,254.1 L599.5,254.1 L600.5,254.2 L601.5,253.7 L602.5,253.8 L603.5,253.9 L604.5,254.0 L605.5,254.5 L606.5,254.2 L606.7,253.4" fill="none" stroke="#2f7bd8" stroke-width="1.8" stroke-linejoin="round" opacity="1.0"/>
</svg></body></html>
